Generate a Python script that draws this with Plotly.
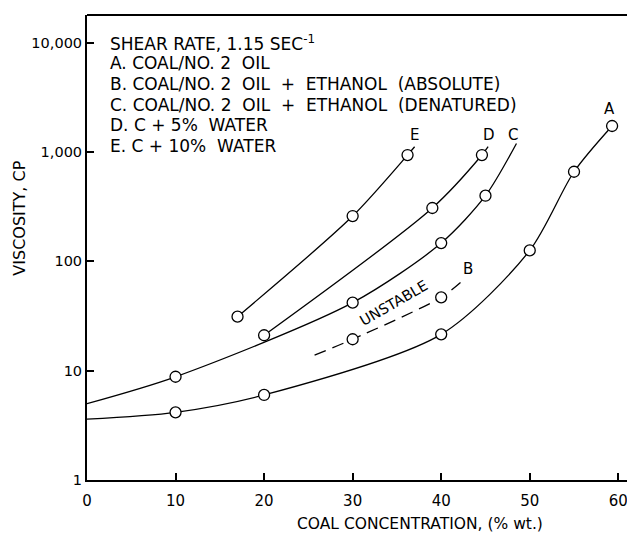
import plotly.graph_objects as go

# ---- data ----
# curve vertices (include unmarked curve ends)
a_x = [0, 10, 20, 40, 50, 55, 59.3]
a_y = [3.6, 4.16, 6.0, 21.5, 126, 661, 1733]
a_mx = [10, 20, 40, 50, 55, 59.3]
a_my = [4.16, 6.0, 21.5, 126, 661, 1733]

b_x = [25.7, 30, 40, 42.5]
b_y = [13.9, 19.4, 46.9, 67.6]
b_mx = [30, 40]
b_my = [19.4, 46.9]

c_x = [0, 10, 30, 40, 45, 48.5]
c_y = [5.0, 8.8, 41.9, 147, 399, 1200]
c_mx = [10, 30, 40, 45]
c_my = [8.8, 41.9, 147, 399]

d_x = [20, 39, 44.6, 45.3]
d_y = [21.1, 308, 940, 1120]
d_mx = [20, 39, 44.6]
d_my = [21.1, 308, 940]

e_x = [17, 30, 36.2, 37.0]
e_y = [31.2, 260, 940, 1120]
e_mx = [17, 30, 36.2]
e_my = [31.2, 260, 940]

x_ticks = [0, 10, 20, 30, 40, 50, 60]
y_ticks = [1, 10, 100, 1000, 10000]
y_tick_text = ["1", "10", "100", "1,000", "10,000"]

legend_lines = [
    "SHEAR RATE, 1.15 SEC<sup>-1</sup>",
    "A. COAL/NO. 2  OIL",
    "B. COAL/NO. 2  OIL  +  ETHANOL  (ABSOLUTE)",
    "C. COAL/NO. 2  OIL  +  ETHANOL  (DENATURED)",
    "D. C + 5%  WATER",
    "E. C + 10%  WATER",
]

# ---- layout geometry (page body has an 8px margin) ----
OFF = 8
W, H = 635 - OFF, 533 - OFF
L, R, T, B = 87.3 - OFF, 633 - OFF, 15 - OFF, 480 - OFF
px_per_x = 8.85
x_max = (R - L) / px_per_x
dec = 109.3
y_top = (B - T) / dec

FONT = "DejaVu Sans"

def px(xr):
    return (xr - OFF - L) / (R - L)

def py(yr):
    return (B - (yr - OFF)) / (B - T)

fig = go.Figure()

line_style = dict(color="black", width=1.3, shape="spline", smoothing=0.8)
marker_style = dict(symbol="circle", size=11, color="white",
                    line=dict(color="black", width=1.3))

for xs, ys, dash in [(a_x, a_y, "solid"), (b_x, b_y, "12px,7px"),
                     (c_x, c_y, "solid"), (d_x, d_y, "solid"),
                     (e_x, e_y, "solid")]:
    fig.add_trace(go.Scatter(x=xs, y=ys, mode="lines",
                             line=dict(line_style, dash=dash),
                             showlegend=False, hoverinfo="skip"))

for mx, my in [(a_mx, a_my), (b_mx, b_my), (c_mx, c_my), (d_mx, d_my), (e_mx, e_my)]:
    fig.add_trace(go.Scatter(x=mx, y=my, mode="markers", marker=marker_style,
                             showlegend=False, hoverinfo="skip"))

ann = []
for i, t in enumerate(legend_lines):
    yr = 43 + i * 20.5
    ann.append(dict(x=px(108), y=py(yr), xref="paper", yref="paper",
                    text=t, showarrow=False, xanchor="left", yanchor="middle",
                    font=dict(family=FONT, size=17, color="black")))

for t, xr, yr in [("A", 610, 109), ("B", 468, 269), ("C", 513, 135),
                  ("D", 489, 135), ("E", 415, 135)]:
    ann.append(dict(x=px(xr), y=py(yr), xref="paper", yref="paper", text=t,
                    showarrow=False, xanchor="center", yanchor="middle",
                    font=dict(family=FONT, size=15, color="black")))

ann.append(dict(x=px(394), y=py(303), xref="paper", yref="paper", text="UNSTABLE",
                showarrow=False, textangle=-30, xanchor="center", yanchor="middle",
                font=dict(family=FONT, size=14.5, color="black")))

ann.append(dict(x=px(420), y=py(524), xref="paper", yref="paper",
                text="COAL CONCENTRATION, (% wt.)", showarrow=False,
                xanchor="center", yanchor="middle",
                font=dict(family=FONT, size=15.5, color="black")))
ann.append(dict(x=px(20), y=py(218), xref="paper", yref="paper",
                text="VISCOSITY, CP", showarrow=False, textangle=-90,
                xanchor="center", yanchor="middle",
                font=dict(family=FONT, size=16, color="black")))

fig.update_layout(
    width=W, height=H,
    margin=dict(l=L, r=W - R, t=T, b=H - B, pad=0),
    paper_bgcolor="white", plot_bgcolor="white",
    annotations=ann,
    shapes=[
        dict(type="line", xref="paper", yref="paper", x0=0, x1=1, y0=1, y1=1,
             line=dict(color="black", width=2)),
        dict(type="line", xref="paper", yref="paper", x0=1, x1=1,
             y0=1, y1=py(230), line=dict(color="#bbbbbb", width=1.5)),
    ],
)

fig.update_xaxes(range=[0, x_max], tickvals=x_ticks,
                 ticks="inside", ticklen=7, tickwidth=1.5, tickcolor="black",
                 ticklabelstandoff=6,
                 showline=True, linecolor="black", linewidth=2,
                 showgrid=False, zeroline=False,
                 tickfont=dict(family=FONT, size=15, color="black"))
fig.update_yaxes(type="log", range=[0, y_top], tickvals=y_ticks, ticktext=y_tick_text,
                 ticks="inside", ticklen=7, tickwidth=1.5, tickcolor="black",
                 showline=True, linecolor="black", linewidth=2,
                 showgrid=False, zeroline=False,
                 tickfont=dict(family=FONT, size=14.5, color="black"))

fig.write_html("out.html")
